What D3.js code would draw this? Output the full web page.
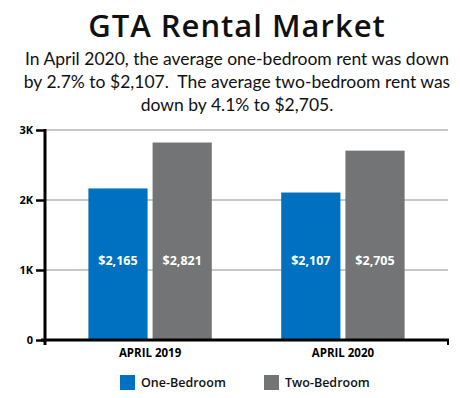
<!DOCTYPE html>
<html>
<head>
<meta charset="utf-8">
<script src="https://cdn.jsdelivr.net/npm/d3@7"></script>
<style>
  html, body { margin: 0; padding: 0; background: #fff; }
  svg { display: block; }
  text { white-space: pre; }
</style>
</head>
<body>
<svg id="chart" width="460" height="398"></svg>
<script>
const categories = ["APRIL 2019", "APRIL 2020"];
const seriesNames = ["One-Bedroom", "Two-Bedroom"];
const oneBedroom = [2165, 2107];
const twoBedroom = [2821, 2705];
const valueLabels = [["$2,165", "$2,821"], ["$2,107", "$2,705"]];
const yTicks = [0, 1000, 2000, 3000];
const yTickLabels = ["0", "1K", "2K", "3K"];
const colors = ["#0070c0", "#737476"];
const titleText = "GTA Rental Market";
const subtitleLines = [
  "In April 2020, the average one-bedroom rent was down",
  "by 2.7% to $2,107.  The average two-bedroom rent was",
  "down by 4.1% to $2,705."
];

(function () {
const svg = d3.select("#chart");
const mLeft = 45, mRight = 448, mTop = 130, mBottom = 340;

const y = d3.scaleLinear().domain([0, 3000]).range([mBottom, mTop]);
const x0 = d3.scaleBand().domain(categories).range([mLeft, mRight])
  .paddingInner(0.36).paddingOuter(0.225);
const x1 = d3.scaleBand().domain(seriesNames).range([0, x0.bandwidth()])
  .paddingInner(0.078);

// Title
svg.append("text").attr("x", 237).attr("y", 37)
  .attr("text-anchor", "middle")
  .attr("font-family", "'Open Sans', sans-serif").attr("font-weight", 600)
  .attr("font-size", 31).attr("letter-spacing", 1).attr("fill", "#111")
  .text(titleText);

svg.selectAll(".sub").data(subtitleLines).join("text")
  .attr("class", "sub")
  .attr("x", 237).attr("y", (d, i) => 65 + i * 23)
  .attr("text-anchor", "middle")
  .attr("font-family", "Lato, sans-serif").attr("font-weight", 400)
  .attr("font-size", 17.5).attr("fill", "#111")
  .text(d => d);

// Gridlines
svg.append("g").selectAll("line").data(yTicks.filter(d => d > 0)).join("line")
  .attr("x1", mLeft).attr("x2", mRight)
  .attr("y1", d => y(d)).attr("y2", d => y(d))
  .attr("stroke", "#c8c8c8").attr("stroke-width", 2);

// Bars
const data = categories.map((c, i) => ({ cat: c, vals: [oneBedroom[i], twoBedroom[i]], labels: valueLabels[i] }));
const groups = svg.append("g").selectAll("g").data(data).join("g")
  .attr("transform", d => `translate(${x0(d.cat)},0)`);
groups.selectAll("rect").data(d => d.vals.map((v, j) => ({ s: seriesNames[j], v, j }))).join("rect")
  .attr("x", d => x1(d.s)).attr("width", x1.bandwidth())
  .attr("y", d => y(d.v)).attr("height", d => y(0) - y(d.v))
  .attr("fill", d => colors[d.j]);
groups.selectAll("text").data(d => d.labels.map((l, j) => ({ s: seriesNames[j], l }))).join("text")
  .attr("x", d => x1(d.s) + x1.bandwidth() / 2)
  .attr("y", y(1000) - 5)
  .attr("text-anchor", "middle")
  .attr("font-family", "'Open Sans', sans-serif").attr("font-weight", 700)
  .attr("font-size", 12.5).attr("fill", "#fff")
  .text(d => d.l);

// Y axis
const yAxis = d3.axisLeft(y).tickValues(yTicks).tickFormat((d, i) => yTickLabels[i]).tickSize(9).tickPadding(3);
const gy = svg.append("g").attr("transform", `translate(${mLeft},0)`).call(yAxis);
gy.select(".domain").remove();
gy.selectAll(".tick line").attr("stroke", "#000").attr("stroke-width", 2.5);
gy.selectAll(".tick text").attr("font-family", "'Open Sans', sans-serif")
  .attr("font-weight", 700).attr("font-size", 11).attr("fill", "#000");
gy.append("line").attr("x1", 0).attr("x2", 0).attr("y1", mTop - 1).attr("y2", mBottom + 5)
  .attr("stroke", "#000").attr("stroke-width", 3);

// X axis baseline
svg.append("line").attr("x1", mLeft - 4).attr("x2", mRight + 1)
  .attr("y1", mBottom).attr("y2", mBottom).attr("stroke", "#000").attr("stroke-width", 3);
svg.append("line").attr("x1", mRight).attr("x2", mRight)
  .attr("y1", mBottom).attr("y2", mBottom + 5).attr("stroke", "#000").attr("stroke-width", 2);

svg.append("g").selectAll("text").data(categories).join("text")
  .attr("x", d => x0(d) + x0.bandwidth() / 2).attr("y", 357)
  .attr("text-anchor", "middle")
  .attr("font-family", "'Open Sans', sans-serif").attr("font-weight", 700)
  .attr("font-size", 11.5).attr("fill", "#000")
  .text(d => d);

// Legend
const legX = [120, 264];
const leg = svg.append("g").selectAll("g").data(seriesNames).join("g")
  .attr("transform", (d, i) => `translate(${legX[i]},375)`);
leg.append("rect").attr("width", 15).attr("height", 15).attr("fill", (d, i) => colors[i]);
leg.append("text").attr("x", 21).attr("y", 12)
  .attr("font-family", "'Open Sans', sans-serif").attr("font-weight", 600)
  .attr("font-size", 12.5).attr("fill", "#111")
  .text(d => d);
})();
</script>
</body>
</html>
